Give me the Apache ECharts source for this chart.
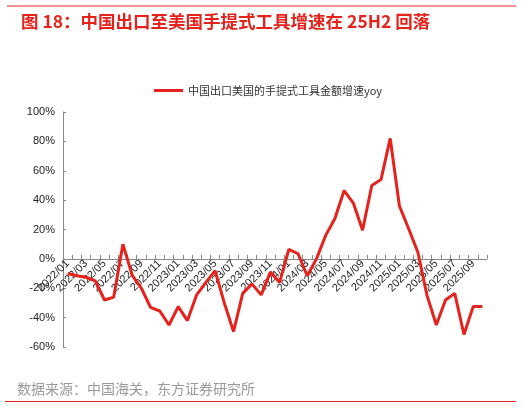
<!DOCTYPE html>
<html>
<head>
<meta charset="utf-8">
<script src="https://cdn.jsdelivr.net/npm/echarts@6/dist/echarts.min.js"></script>
<style>
html,body{margin:0;padding:0;background:#fff;}
#c{width:525px;height:414px;}
</style>
</head>
<body>
<div id="c"></div>
<script>
const categories = [
  '2022/01','2022/02','2022/03','2022/04','2022/05','2022/06','2022/07','2022/08','2022/09','2022/10','2022/11','2022/12',
  '2023/01','2023/02','2023/03','2023/04','2023/05','2023/06','2023/07','2023/08','2023/09','2023/10','2023/11','2023/12',
  '2024/01','2024/02','2024/03','2024/04','2024/05','2024/06','2024/07','2024/08','2024/09','2024/10','2024/11','2024/12',
  '2025/01','2025/02','2025/03','2025/04','2025/05','2025/06','2025/07','2025/08','2025/09','2025/10'
];
const seriesName = '中国出口美国的手提式工具金额增速yoy';
const yoyValues = [
  -10, -11.5, -12.5, -15, -28, -26, 10, -11, -20, -33, -35.5, -45,
  -32.5, -42, -24.5, -16, -8, -30, -49.5, -23.5, -17, -24.5, -9, -16,
  6.5, 3.5, -11.5, 0, 16, 27.5, 46.5, 38, 19.5, 50, 54, 82,
  36, 20.5, 4.5, -25, -45, -28, -23.5, -51.5, -32.5, -32.5
];
const yTicks = { min: -60, max: 100, interval: 20 };
const titleText = '图 18：中国出口至美国手提式工具增速在 25H2 回落';
const sourceText = '数据来源：中国海关，东方证券研究所';

const RED = '#E5221C';
const FONT = '"Noto Sans CJK SC", "Noto Sans", sans-serif';
const LATIN = '"Liberation Sans", Arial, sans-serif';
const GRID = { left: 63, right: 38, top: 112, bottom: 67 };
const plotH = 414 - GRID.top - GRID.bottom;
// distance from the bottom of the plot to the zero line
const zeroOffset = plotH * (0 - yTicks.min) / (yTicks.max - yTicks.min);

const chart = echarts.init(document.getElementById('c'), null, { renderer: 'canvas' });
chart.setOption({
  backgroundColor: '#fff',
  animation: false,
  textStyle: { fontFamily: FONT },
  title: {
    text: titleText,
    left: 16, top: 8,
    textStyle: { color: RED, fontSize: 17.5, fontWeight: 'bold', fontFamily: FONT }
  },
  legend: {
    data: [{ name: seriesName, icon: 'rect' }],
    left: 149, top: 80,
    itemWidth: 29, itemHeight: 3, itemGap: 4,
    textStyle: { color: '#333', fontSize: 11, fontFamily: FONT }
  },
  grid: { left: GRID.left, right: GRID.right, top: GRID.top, bottom: GRID.bottom, containLabel: false },
  xAxis: {
    type: 'category',
    data: categories,
    boundaryGap: true,
    position: 'bottom',
    offset: -zeroOffset,
    axisLine: { onZero: false, lineStyle: { color: '#888', width: 1 } },
    axisTick: { show: true, inside: true, length: 4, interval: 0, lineStyle: { color: '#888' } },
    axisLabel: { rotate: 45, interval: 1, fontSize: 11, color: '#222', margin: 3, fontFamily: LATIN },
    splitLine: { show: false }
  },
  yAxis: {
    type: 'value',
    min: yTicks.min, max: yTicks.max, interval: yTicks.interval,
    axisLine: { show: true, lineStyle: { color: '#888', width: 1 } },
    axisTick: { show: true, inside: true, length: 3, lineStyle: { color: '#888' } },
    axisLabel: { formatter: v => v + '%', fontSize: 11, color: '#222', margin: 8, fontFamily: LATIN },
    splitLine: { show: false }
  },
  series: [{
    name: seriesName,
    type: 'line',
    data: yoyValues,
    symbol: 'none',
    lineStyle: { color: RED, width: 3 },
    itemStyle: { color: RED }
  }],
  graphic: [
    { type: 'line', shape: { x1: 7, y1: 6, x2: 516, y2: 6 }, style: { stroke: RED, lineWidth: 1 } },
    { type: 'line', shape: { x1: 5, y1: 401.5, x2: 516, y2: 401.5 }, style: { stroke: RED, lineWidth: 1 } },
    { type: 'text', left: 17, top: 382, style: { text: sourceText, fill: '#9a9a9a', fontSize: 14, fontFamily: FONT } }
  ]
});
</script>
</body>
</html>
